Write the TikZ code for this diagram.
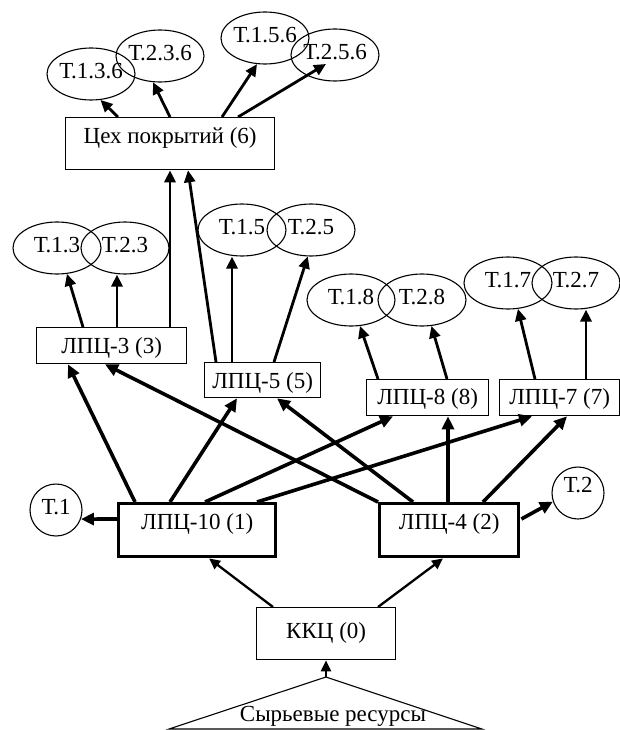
\documentclass[tikz,border=0pt]{standalone}
\usepackage{fontspec}
\setmainfont{Liberation Serif}
\usetikzlibrary{arrows.meta,calc,shapes.geometric}
\newcommand{\zwtext}[1]{\makebox[0pt]{#1}}
\begin{document}
\begin{tikzpicture}[x=1pt,y=-1pt,
  font=\fontsize{23}{26}\selectfont,
  box/.style={draw,line width=1.3pt,inner sep=0pt,anchor=north west},
  tbox/.style={box,line width=3.4pt},
  ell/.style={draw,ellipse,line width=1.1pt,inner sep=0pt,minimum width=88pt,minimum height=52pt,text height=15pt,text depth=6pt},
  circ/.style={draw,circle,line width=1.1pt,inner sep=0pt,minimum size=52pt,text height=15pt},
  arr/.style={-{Triangle[length=12pt,width=11pt]},line width=2.8pt},
  arrB/.style={-{Triangle[length=13pt,width=12pt]},line width=3.6pt},
  arrK/.style={-{Triangle[length=11pt,width=10pt]},line width=2.3pt}
]
\useasboundingbox (0,0) rectangle (620,730);

% ellipses
\node[ell] (e136) at (91,74) {\zwtext{Т.1.3.6}};
\node[ell] (e236) at (160,56) {\zwtext{Т.2.3.6}};
\node[ell] (e156) at (265,38) {\zwtext{Т.1.5.6}};
\node[ell] (e256) at (335,55) {\zwtext{Т.2.5.6}};
\node[ell] (e13) at (57,248) {\zwtext{Т.1.3}};
\node[ell] (e23) at (125,248) {\zwtext{Т.2.3}};
\node[ell] (e15) at (242,230) {\zwtext{Т.1.5}};
\node[ell] (e25) at (311,230) {\zwtext{Т.2.5}};
\node[ell] (e18) at (351,300) {\zwtext{Т.1.8}};
\node[ell] (e28) at (422,300) {\zwtext{Т.2.8}};
\node[ell] (e17) at (508,283) {\zwtext{Т.1.7}};
\node[ell] (e27) at (576,283) {\zwtext{Т.2.7}};
\node[circ,text depth=6pt] (t1) at (56,510) {\zwtext{Т.1}};
\node[circ,text depth=16pt] (t2) at (578,493) {\zwtext{Т.2}};

% boxes
\node[box,minimum width=209pt,text height=25.6pt,text depth=26.4pt] (c6) at (65,117) {Цех покрытий (6)};
\node[box,minimum width=150pt,text height=26pt,text depth=10pt] (l3) at (36,327) {ЛПЦ-3 (3)};
\node[box,minimum width=116pt,text height=25.5pt,text depth=9.5pt] (l5) at (204,362) {ЛПЦ-5 (5)};
\node[box,minimum width=122pt,text height=25pt,text depth=11pt] (l8) at (366,379) {ЛПЦ-8 (8)};
\node[box,minimum width=120pt,text height=25pt,text depth=11pt] (l7) at (499,379) {ЛПЦ-7 (7)};
\node[tbox,minimum width=157pt,text height=26pt,text depth=27pt] (l10) at (117,502) {ЛПЦ-10 (1)};
\node[tbox,minimum width=139pt,text height=26pt,text depth=27pt] (l4) at (378,502) {ЛПЦ-4 (2)};
\node[box,minimum width=139pt,text height=31pt,text depth=21pt] (k0) at (256,607) {ККЦ (0)};

% raw-material triangle
\coordinate (apex) at (326,677);
\coordinate (bl) at (169,729);
\coordinate (br) at (482,729);
\draw[line width=1.1pt] (bl) -- (apex) -- (br) -- cycle;
\node[inner sep=0pt] (res) at (333,716) {Сырьевые ресурсы};
\draw[arrK] (apex) -- (apex |- k0.south);

% from KKC
\draw[arrK] ($(k0.north west)+(17,0)$) -- ($(l10.south west)+(92,0)$);
\draw[arrK] ($(k0.north west)+(122,0)$) -- ($(l4.south west)+(65,0)$);

% from LPC-10
\draw[arrB] ($(l10.north west)+(0,17)$) -- (t1.-20);
\draw[arrB] ($(l10.north west)+(18,0)$) -- ($(l3.south west)+(32,0)$);
\draw[arrB] ($(l10.north west)+(53,0)$) -- ($(l5.south west)+(33,0)$);
\draw[arrB] ($(l10.north west)+(88,0)$) -- ($(l8.south west)+(27,0)$);
\draw[arrB] ($(l10.north west)+(140,0)$) -- ($(l7.south west)+(33,0)$);

% from LPC-4
\draw[arrB] ($(l4.north east)+(1,17)$) -- (t2.-161);
\draw[arrB] ($(l4.north west)+(0,0)$) -- ($(l3.south west)+(69,0)$);
\draw[arrB] ($(l4.north west)+(35,0)$) -- ($(l5.south west)+(73,0)$);
\draw[arrB] ($(l4.north west)+(70,0)$) -- ($(l8.south west)+(82,0)$);
\draw[arrB] ($(l4.north west)+(105,0)$) -- ($(l7.south west)+(68,0)$);

% from LPC-3
\draw[arr] ($(l3.north west)+(47,0)$) -- (e13.-69);
\draw[arr] ($(l3.north west)+(81,0)$) coordinate (s23) -- (s23 |- e23.south);
\draw[arr] ($(l3.north west)+(134,0)$) -- ($(c6.south west)+(105,0)$);

% from LPC-5
\draw[arr] ($(l5.north west)+(12,0)$) -- ($(c6.south west)+(123,0)$);
\draw[arr] ($(l5.north west)+(28,0)$) coordinate (s15) -- (s15 |- e15.south);
\draw[arr] ($(l5.north west)+(70,0)$) -- (e25.-97);

% from LPC-8
\draw[arr] ($(l8.north west)+(12,0)$) -- (e18.-71);
\draw[arr] ($(l8.north west)+(81,0)$) -- (e28.-70);

% from LPC-7
\draw[arr] ($(l7.north west)+(36,0)$) -- (e17.-69);
\draw[arr] ($(l7.north west)+(87,0)$) coordinate (s27) -- (s27 |- e27.south);

% from coating shop
\draw[arr] ($(c6.north west)+(53,0)$) -- (e136.-70);
\draw[arr] ($(c6.north west)+(105,0)$) -- (e236.-105);
\draw[arr] ($(c6.north west)+(157,0)$) -- (e156.-107);
\draw[arr] ($(c6.north west)+(173,0)$) -- ($(e256.center)+(-9,9)$);
\end{tikzpicture}
\end{document}
